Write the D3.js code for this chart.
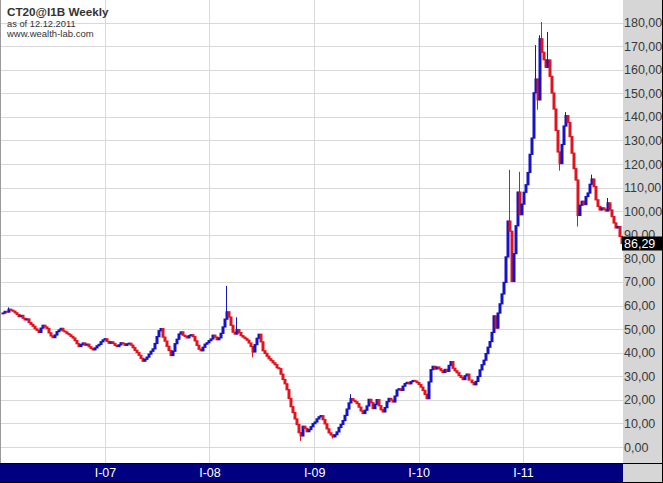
<!DOCTYPE html>
<html><head><meta charset="utf-8">
<script src="https://cdn.jsdelivr.net/npm/d3@7"></script>
<style>html,body{margin:0;padding:0;background:#fff;overflow:hidden}</style>
</head><body><svg id="c" width="663" height="483"></svg>
<script>
// Weekly closes, week starting 2006-01-09
const closes2006 = [56.8,57.5,57.2,58.4,58.0,57.6,56.9,56.2,55.3,55.8,54.6,53.9,54.3,52.8,52.0,51.2,50.1,49.5,48.6,50.4,51.6,50.9,50.2,48.4,47.1,46.4,47.5,48.9,49.6,50.3,49.2,48.8,48.1,47.6,46.9,46.2,45.1,43.8,42.6,43.4,44.1,43.2,43.6,42.5,41.8,41.2,42.0,42.9,43.5,44.6,45.4];
const closes2007 = [45.9,44.8,44.0,44.6,43.9,43.1,42.6,43.3,44.2,43.8,43.1,43.7,44.0,43.2,42.1,41.0,40.0,38.9,37.6,36.4,37.2,38.1,39.4,40.6,41.6,43.9,46.8,49.3,50.2,46.6,44.9,42.7,40.9,38.8,40.6,43.8,45.7,47.9,48.8,47.4,46.9,46.3,47.2,47.6,46.8,45.0,43.1,41.5,40.8,42.3,43.6,44.2,45.1];
const closes2008 = [45.8,47.4,46.6,45.5,46.3,48.2,50.9,54.2,57.3,55.1,51.6,48.7,47.9,49.8,48.5,47.2,46.6,46.0,45.3,44.1,42.6,40.3,43.4,46.1,47.8,44.6,40.8,39.7,38.5,37.4,36.6,35.7,34.9,33.6,33.2,30.9,28.6,26.8,24.3,20.6,17.1,14.6,11.9,9.5,6.1,4.7,8.8,7.9,6.5,7.4,8.6,9.9];
const closes2009 = [10.6,11.9,12.8,13.3,11.6,9.8,7.7,6.0,5.1,4.3,5.2,6.4,8.3,9.6,11.2,13.4,16.1,18.7,20.5,19.8,19.2,18.4,16.9,15.3,14.2,15.6,17.4,20.2,18.8,16.3,18.1,20.1,17.5,15.8,14.9,16.7,19.2,20.6,19.9,19.1,21.6,24.2,24.7,24.0,25.8,26.9,27.4,26.8,27.7,28.2,27.9,27.3];
const closes2010 = [26.5,25.4,24.0,22.3,20.5,27.6,32.8,34.2,33.1,33.9,33.2,32.4,31.6,32.9,32.1,34.6,36.2,33.4,32.3,31.5,30.3,29.5,28.6,30.2,30.9,28.4,27.3,26.4,27.8,29.9,32.7,34.9,36.8,39.6,42.3,44.7,48.6,55.6,50.4,56.8,60.7,64.9,69.8,80.6,95.8,91.5,70.2,82.0,93.8,108.1,98.5,103.0];
const closes2011 = [108.0,111.2,116.4,124.1,131.0,150.2,156.0,147.2,173.1,167.4,164.2,161.0,164.1,157.2,150.1,143.3,134.2,125.1,120.2,128.3,136.1,140.5,137.6,131.6,124.6,118.0,113.2,98.2,102.5,104.2,102.8,106.2,107.7,111.4,113.6,110.4,104.8,102.0,100.5,101.4,100.8,100.1,103.5,100.5,97.7,95.0,92.9,93.5,89.3,86.29];
const firstOpen = 56.5;
// notable wicks [week index, value]
const wickHighs = [[3,59.2],[112,68.3],[117,55.0],[174,22.4],[253,117.5],[258,116.7],[266,170.4],[268,174.6],[269,180.2],[272,176.0],[281,142.0],[294,115.5],[302,105.6]];
const wickLows = [[125,38.0],[149,2.6],[165,3.6],[267,143.0],[278,117.2],[287,93.5]];

const yTickValues = [0,10,20,30,40,50,60,70,80,90,100,110,120,130,140,150,160,170,180];
const xTickDates = ["2007-01-01","2008-01-01","2009-01-01","2010-01-01","2011-01-01"];
const xTickLabels = ["I-07","I-08","I-09","I-10","I-11"];
const titleText = "CT20@I1B Weekly";
const subText1 = "as of 12.12.2011";
const subText2 = "www.wealth-lab.com";
const lastLabel = "86,29";

const W = 663, H = 483, plotR = 623, plotB = 463;
const svg = d3.select("#c");
const startDate = new Date(2006,0,9);
const closes = [].concat(closes2006,closes2007,closes2008,closes2009,closes2010,closes2011);
const hiMap = new Map(wickHighs), loMap = new Map(wickLows);
const data = closes.map((c,i)=>{
  const o = i===0 ? firstOpen : closes[i-1];
  let h = Math.max(o,c), l = Math.min(o,c);
  if (hiMap.has(i)) h = Math.max(h, hiMap.get(i));
  if (loMap.has(i)) l = Math.min(l, loMap.get(i));
  return {date: d3.timeDay.offset(startDate, 7*i), o, c, h, l};
});

const parse = d3.timeParse("%Y-%m-%d");
const x = d3.scaleTime().domain([parse("2007-01-01"), parse("2011-01-01")]).range([105, 523]);
const y = d3.scaleLinear().domain([0,180]).range([447, 22.5]);
const loc = d3.formatLocale({decimal:",", thousands:".", grouping:[3], currency:["",""]});
const fmt = loc.format(".2f");

svg.append("rect").attr("width",W).attr("height",H).attr("fill","#fff");

// grid
const gy = svg.append("g").attr("class","grid")
  .call(d3.axisLeft(y).tickValues(yTickValues).tickSize(-plotR).tickFormat(""));
const gx = svg.append("g").attr("class","grid").attr("transform",`translate(0,${plotB})`)
  .call(d3.axisBottom(x).tickValues(xTickDates.map(parse)).tickSize(-plotB).tickFormat(""));
svg.selectAll(".grid .domain").remove();
svg.selectAll(".grid line").attr("stroke","#d9d9d9").attr("shape-rendering","crispEdges");

// candles
const clip = svg.append("clipPath").attr("id","pc").append("rect").attr("x",0).attr("y",0).attr("width",plotR).attr("height",plotB);
const up = "#1414c4", dn = "#e0141e";
const cg = svg.append("g").attr("clip-path","url(#pc)");
cg.selectAll("line.w").data(data).join("line").attr("class","w")
  .attr("x1",d=>Math.round(x(d.date))-0.5).attr("x2",d=>Math.round(x(d.date))-0.5)
  .attr("y1",d=>y(d.h)).attr("y2",d=>y(d.l))
  .attr("stroke",d=>d.c>=d.o?up:dn).attr("stroke-width",1);
cg.selectAll("rect.b").data(data).join("rect").attr("class","b")
  .attr("x",d=>Math.round(x(d.date))-1.5).attr("width",3)
  .attr("y",d=>y(Math.max(d.o,d.c))-0.6)
  .attr("height",d=>Math.max(1.8, Math.abs(y(d.o)-y(d.c))+1.2))
  .attr("fill",d=>d.c>=d.o?up:dn);

// right panel
svg.append("rect").attr("x",plotR).attr("y",0).attr("width",W-plotR).attr("height",H).attr("fill","#d6d6d6");
const ya = svg.append("g").attr("transform",`translate(${plotR},0)`)
  .call(d3.axisRight(y).tickValues(yTickValues).tickSize(0).tickPadding(1).tickFormat(fmt));
ya.select(".domain").remove();
ya.selectAll("text").attr("font-family","'Liberation Sans', Arial, sans-serif").attr("font-size","12.5px").attr("fill","#3a3a3a");

// last value label
const ly = y(closes[closes.length-1]);
svg.append("rect").attr("x",622).attr("y",ly-7).attr("width",40).attr("height",14).attr("fill","#000");
svg.append("text").attr("x",624).attr("y",ly).attr("dy","0.36em").text(lastLabel)
  .attr("font-family","'Liberation Sans', Arial, sans-serif").attr("font-size","12.5px").attr("fill","#fff");

// bottom bar
svg.append("rect").attr("x",0).attr("y",plotB).attr("width",plotR).attr("height",H-plotB).attr("fill","#000080");
const xa = svg.append("g").attr("transform",`translate(0,${plotB+1})`)
  .call(d3.axisBottom(x).tickValues(xTickDates.map(parse)).tickSize(0).tickPadding(4).tickFormat((d,i)=>xTickLabels[i]));
xa.select(".domain").remove();
xa.selectAll("text").attr("font-family","'Liberation Sans', Arial, sans-serif").attr("font-size","12.5px").attr("fill","#fff");

// borders
const bl = (x1,y1,x2,y2,c)=>svg.append("line").attr("x1",x1).attr("y1",y1).attr("x2",x2).attr("y2",y2).attr("stroke",c).attr("stroke-width",1);
bl(0,plotB+0.5,W,plotB+0.5,"#000");
bl(0,H-0.5,W,H-0.5,"#000");
bl(W-0.5,0,W-0.5,H,"#000");
bl(0.5,0,0.5,plotB,"#9a9a9a");

// titles
svg.append("text").attr("x",7).attr("y",16).text(titleText)
  .attr("font-family","'Liberation Sans', Arial, sans-serif").attr("font-weight","bold").attr("font-size","11.7px").attr("fill","#333");
svg.append("text").attr("x",7).attr("y",27.3).text(subText1)
  .attr("font-family","'Liberation Sans', Arial, sans-serif").attr("font-size","9.3px").attr("fill","#333");
svg.append("text").attr("x",7).attr("y",37.3).text(subText2)
  .attr("font-family","'Liberation Sans', Arial, sans-serif").attr("font-size","9.5px").attr("fill","#333");
</script></body></html>
